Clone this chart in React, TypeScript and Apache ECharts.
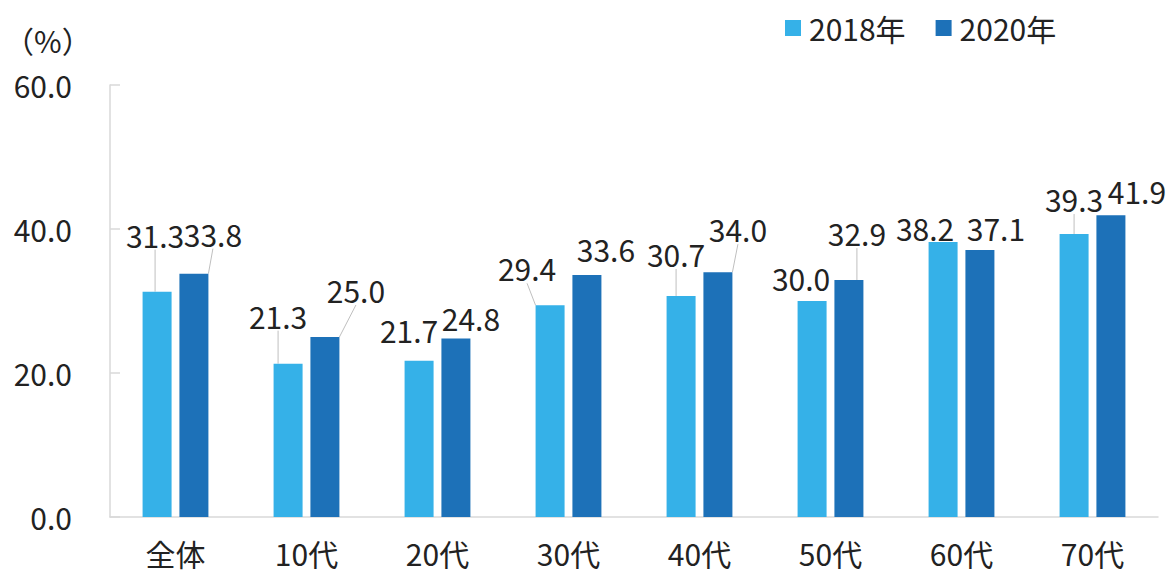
import React, { useEffect, useRef } from "react";
import * as echarts from "echarts";

const categories = ["全体", "10代", "20代", "30代", "40代", "50代", "60代", "70代"];
const seriesNames = ["2018年", "2020年"];
const values2018 = [31.3, 21.3, 21.7, 29.4, 30.7, 30.0, 38.2, 39.3];
const values2020 = [33.8, 25.0, 24.8, 33.6, 34.0, 32.9, 37.1, 41.9];
const yTicks = [0, 20, 40, 60];

// label placement relative to each bar (centre x offset, centre y offset from bar top)
const labelDx2018 = [-2, -10, -10, -23, -5, -11, -18, 0];
const labelDy2018 = [-57, -48, -31, -37, -42, -23, -14, -35];
const leader2018 = [true, true, false, true, true, false, false, true];
const labelDx2020 = [19, 31, 15, 19, 20, 8, 16, 26];
const labelDy2020 = [-40, -47, -20, -26, -43, -47, -22, -24];
const leader2020 = [true, true, false, false, true, true, false, false];

const FONT = "'Noto Sans CJK JP', 'Noto Sans', sans-serif";
const TEXT = "#222222";
const COLORS = ["#35B1E8", "#1D71B8"];
const FS = 30;

export default function App() {
  const ref = useRef<HTMLDivElement>(null);
  useEffect(() => {
    if (!ref.current) return;
    const chart = echarts.init(ref.current, null, { renderer: "svg" });
    const dxs = [labelDx2018, labelDx2020];
    const dys = [labelDy2018, labelDy2020];
    const mk = (vals: number[], leaders: boolean[]) =>
      vals.map((v, i) => ({ value: v, labelLine: { show: leaders[i] } }));
    const labelCfg = {
      show: true,
      position: "top",
      fontSize: FS,
      color: TEXT,
      fontFamily: FONT,
      formatter: (p: any) => Number(p.value).toFixed(1),
    };
    chart.setOption({
      animation: false,
      textStyle: { fontFamily: FONT },
      grid: { left: 110, right: 18, top: 85, bottom: 59 },
      legend: {
        left: 780,
        top: 8,
        itemWidth: 16,
        itemHeight: 16,
        itemGap: 30,
        icon: "rect",
        textStyle: { fontSize: FS, color: TEXT, fontFamily: FONT, padding: [0, 0, 0, 3] },
        data: seriesNames,
      },
      graphic: [
        {
          type: "text",
          left: 4,
          top: 25,
          style: { text: "（%）", fontSize: 30, fill: TEXT, fontFamily: FONT },
        },
      ],
      xAxis: {
        type: "category",
        data: categories,
        axisLine: { lineStyle: { color: "#d9d9d9", width: 1.5 } },
        axisTick: { show: false },
        axisLabel: { fontSize: FS, color: TEXT, margin: 21, fontFamily: FONT },
      },
      yAxis: {
        type: "value",
        min: yTicks[0],
        max: yTicks[yTicks.length - 1],
        interval: 20,
        axisLine: { show: true, lineStyle: { color: "#d9d9d9", width: 1.5 } },
        axisTick: { show: true, inside: true, length: 10, lineStyle: { color: "#d9d9d9", width: 1.5 } },
        splitLine: { show: false },
        axisLabel: {
          fontSize: FS,
          color: TEXT,
          margin: 38,
          fontFamily: FONT,
          formatter: (v: number) => v.toFixed(1),
        },
      },
      series: [
        {
          name: seriesNames[0],
          type: "bar",
          data: mk(values2018, leader2018),
          itemStyle: { color: COLORS[0] },
          barWidth: 29,
          barGap: "27%",
          label: labelCfg,
          labelLine: { show: true, lineStyle: { color: "#bfbfbf", width: 1 } },
        },
        {
          name: seriesNames[1],
          type: "bar",
          data: mk(values2020, leader2020),
          itemStyle: { color: COLORS[1] },
          barWidth: 29,
          barGap: "27%",
          label: labelCfg,
          labelLine: { show: true, lineStyle: { color: "#bfbfbf", width: 1 } },
        },
      ],
      labelLayout: (params: any) => {
        const s = params.seriesIndex;
        const i = params.dataIndex;
        const r = params.rect;
        return {
          x: r.x + r.width / 2 + dxs[s][i],
          y: r.y + dys[s][i],
          align: "center",
          verticalAlign: "middle",
        };
      },
    });
    return () => chart.dispose();
  }, []);
  return <div ref={ref} style={{ width: 1176, height: 576, position: "absolute", left: 0, top: 0 }} />;
}
